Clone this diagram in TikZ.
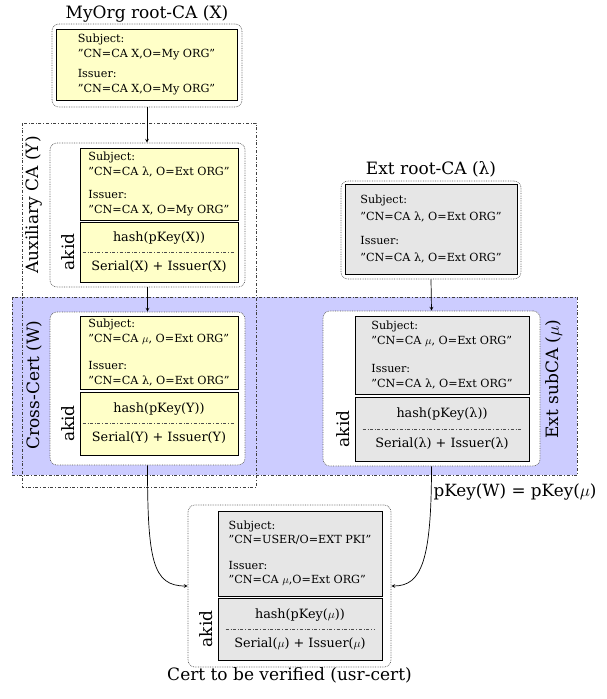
\documentclass[tikz,border=0pt]{standalone}
\usepackage{fontspec}
\setmainfont{DejaVu Serif}
\usepackage{tikz}
\usetikzlibrary{arrows,positioning}
\definecolor{certyellow}{RGB}{255,255,200}
\definecolor{certgray}{RGB}{230,230,230}
\definecolor{crossblue}{RGB}{204,204,255}

\begin{document}
\begin{tikzpicture}[x=1pt,y=-1pt,
  outer/.style={draw=black!65,densely dotted,line width=0.7pt,rounded corners=7pt,fill=white,inner sep=0pt},
  subj/.style={draw=black,line width=0.9pt,align=left,inner sep=0pt,font=\fontsize{11.2}{14.5}\selectfont},
  akidbox/.style={draw=black,line width=0.9pt,align=center,inner sep=0pt,font=\fontsize{12.8}{16}\selectfont},
  sep/.style={black!70,dash dot},
  side/.style={rotate=90,font=\fontsize{17}{19}\selectfont},
  title/.style={font=\fontsize{17}{19}\selectfont},
  region/.style={dash dot,draw=black!75},
  conn/.style={->,>=stealth,line width=0.7pt}]
\useasboundingbox (0,0) rectangle (607,699);

% cross-certification area
\fill[crossblue] (12,297) rectangle (577,475);
\draw[region] (12,297) rectangle (577,475);
\draw[region] (22,123) rectangle (256,487);

% MyOrg root (X)
\node[outer,minimum width=190,minimum height=83] (xout) at (147,65.5) {};
\node[subj,fill=certyellow,minimum width=181,minimum height=71] (xsubj) at (146.5,64.5)
  {Subject:\\”CN=CA X,O=My ORG”\\[6pt]Issuer:\\”CN=CA X,O=My ORG”};
\node[title,above=-2pt of xout] (xtitle) {MyOrg root-CA (X)};

% auxiliary CA (Y)
\node[outer,minimum width=195,minimum height=144] (yout) at (147.5,215) {};
\node[subj,fill=certyellow,minimum width=158,minimum height=72] (ysubj) at (159,184)
  {Subject:\\”CN=CA λ, O=Ext ORG”\\[9pt]Issuer:\\”CN=CA X, O=My ORG”};
\node[akidbox,fill=certyellow,minimum width=158,minimum height=60] (yakid) at (159,252)
  {hash(pKey(X))\\[13pt]Serial(X) + Issuer(X)};
\draw[sep] ([xshift=3]yakid.west) -- ([xshift=-3]yakid.east);
\node[side,anchor=south] (yakidlbl) at ([xshift=-1]yakid.west) {akid};
\node[side] (ytitle) at (34,205) {Auxiliary CA (Y)};

% cross-cert (W)
\node[outer,minimum width=195,minimum height=153] (wout) at (147.5,388.5) {};
\node[subj,fill=certyellow,minimum width=158,minimum height=73] (wsubj) at (159,352.5)
  {Subject:\\”CN=CA $\mu$, O=Ext ORG”\\[13pt]Issuer:\\”CN=CA λ, O=Ext ORG”};
\node[akidbox,fill=certyellow,minimum width=158,minimum height=63] (wakid) at (159,423.5)
  {hash(pKey(Y))\\[13pt]Serial(Y) + Issuer(Y)};
\draw[sep] ([xshift=3]wakid.west) -- ([xshift=-3]wakid.east);
\node[side,anchor=south] (wakidlbl) at ([xshift=-1]wakid.west) {akid};
\node[side] (wtitle) at (34,385) {Cross-Cert (W)};

% Ext root (lambda)
\node[outer,minimum width=180,minimum height=98] (lout) at (431,230) {};
\node[subj,fill=certgray,minimum width=172,minimum height=90] (lsubj) at (431,229)
  {Subject:\\[3pt]”CN=CA λ, O=Ext ORG”\\[9pt]Issuer:\\[3pt]”CN=CA λ, O=Ext ORG”};
\node[title,above=0pt of lout] (ltitle) {Ext root-CA (λ)};

% Ext subCA (mu)
\node[outer,minimum width=217,minimum height=155] (mout) at (431.5,388.5) {};
\node[subj,fill=certgray,minimum width=174,minimum height=78] (msubj) at (442,355)
  {Subject:\\”CN=CA $\mu$, O=Ext ORG”\\[14pt]Issuer:\\”CN=CA λ, O=Ext ORG”};
\node[akidbox,fill=certgray,minimum width=174,minimum height=64] (makid) at (442,429)
  {hash(pKey(λ))\\[14pt]Serial(λ) + Issuer(λ)};
\draw[sep] ([xshift=8]makid.west) -- ([xshift=-8]makid.east);
\node[side,anchor=south] (makidlbl) at ([xshift=-1]makid.west) {akid};
\node[side] (mtitle) at (554,379) {Ext subCA ($\mu$)};

% usr-cert
\node[outer,minimum width=203,minimum height=162] (uout) at (289.5,586) {};
\node[subj,fill=certgray,minimum width=164,minimum height=85] (usubj) at (300,553.5)
  {Subject:\\”CN=USER/O=EXT PKI”\\[11pt]Issuer:\\”CN=CA $\mu$,O=Ext ORG”};
\node[akidbox,fill=certgray,minimum width=164,minimum height=62] (uakid) at (300,629)
  {hash(pKey($\mu$))\\[13pt]Serial($\mu$) + Issuer($\mu$)};
\draw[sep] ([xshift=8]uakid.west) -- ([xshift=-8]uakid.east);
\node[side,anchor=south] (uakidlbl) at ([xshift=-1]uakid.west) {akid};
\node[title,below=-3pt of uout] (utitle) {Cert to be verified (usr-cert)};

% chain
\draw[conn] (xout.south) -- (xout.south |- yout.north);
\draw[conn] (yout.south) -- (wout.north);
\draw[conn] (lout.south) -- (mout.north);
\draw[conn] (wout.south) .. controls +(0,95) and +(-35,0) .. (uout.west);
\draw[conn] (mout.south) .. controls +(0,95) and +(30,0) .. (uout.east);
\node[anchor=west,font=\fontsize{16.8}{19}\selectfont] (pkey) at (430,492) {pKey(W) = pKey($\mu$)};

\end{tikzpicture}
\end{document}
